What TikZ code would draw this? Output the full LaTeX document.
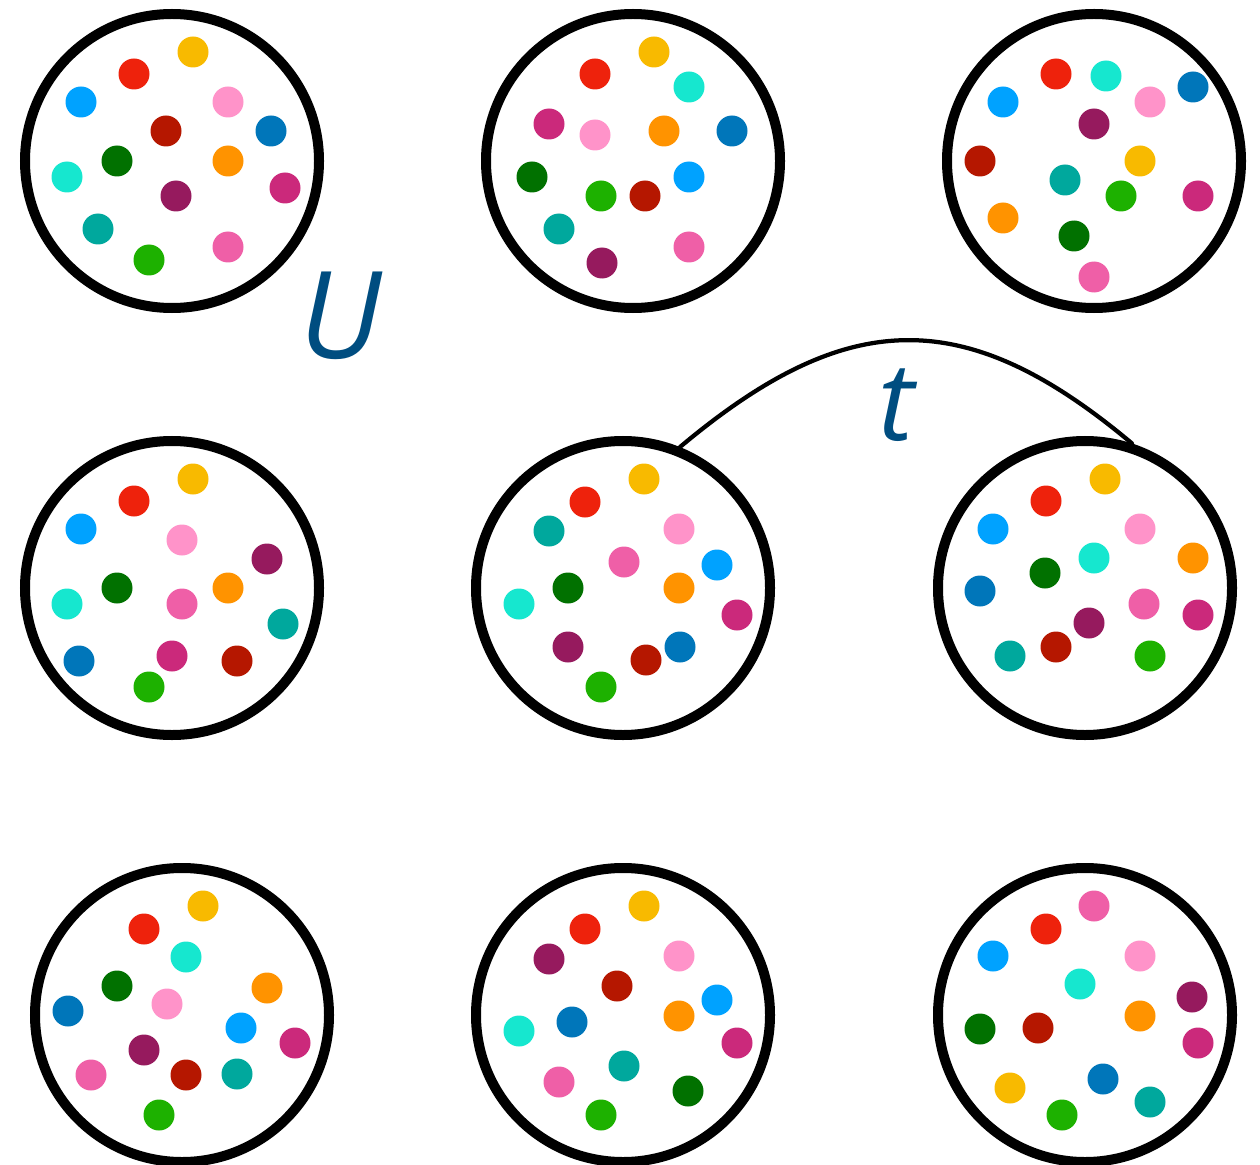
\documentclass[tikz,border=0pt]{standalone}
\usepackage{fontspec}
\newfontfamily\labelfont{Open Sans}
\definecolor{dyellow}{HTML}{F8BA00}
\definecolor{dred}{HTML}{EE220C}
\definecolor{dsky}{HTML}{00A2FF}
\definecolor{drose}{HTML}{FF93C9}
\definecolor{dbrick}{HTML}{B51700}
\definecolor{dblue}{HTML}{0076BA}
\definecolor{dforest}{HTML}{017100}
\definecolor{dorange}{HTML}{FF9300}
\definecolor{daqua}{HTML}{16E7CF}
\definecolor{dmagenta}{HTML}{CB297B}
\definecolor{dplum}{HTML}{961A5E}
\definecolor{dteal}{HTML}{00A89D}
\definecolor{dpink}{HTML}{EF5FA7}
\definecolor{dgreen}{HTML}{1DB100}
\definecolor{labelblue}{HTML}{004D80}
\tikzset{dish/.style={circle, draw=black, line width=2mm, minimum size=58.8mm, inner sep=0pt},
  link/.style={line width=0.85mm, line cap=round},
  lbl/.style={text=labelblue, inner sep=0pt, font=\labelfont\itshape\fontsize{69}{69}\selectfont}}

\begin{document}
\begin{tikzpicture}[x=0.2mm, y=-0.2mm]
  \useasboundingbox (0,0) rectangle (1260,1165);
  \foreach \n/\x/\y in {11/172/161, 12/633/161, 13/1094/161, 21/172/588, 22/623/588,
     23/1085/588, 31/182/1015, 32/623/1015, 33/1085/1015}
     \node[dish] (d\n) at (\x,\y) {};
  % top row
  \foreach \c/\x/\y in {dyellow/193/52, dred/134/74, dsky/81/102, drose/228/102, dbrick/166/131,
     dblue/271/131, dforest/117/161, dorange/228/161, daqua/67/177, dmagenta/285/188,
     dplum/176/196, dteal/98/229, dpink/228/247, dgreen/149/260,
     dyellow/654/52, dred/595/74, daqua/689/87, dmagenta/549/124, drose/595/135,
     dorange/664/131, dblue/732/131, dforest/532/177, dsky/689/177, dgreen/601/196,
     dbrick/645/196, dteal/559/229, dpink/689/247, dplum/602/263,
     dred/1056/74, daqua/1106/76, dblue/1193/87, dsky/1003/102, drose/1150/102,
     dplum/1094/124, dbrick/980/161, dyellow/1140/161, dteal/1065/180, dgreen/1121/196,
     dmagenta/1198/196, dorange/1003/218, dforest/1074/236, dpink/1094/277}
     \fill[\c] (\x,\y) circle (3.1mm);
  % middle row
  \foreach \c/\x/\y in {dyellow/193/479, dred/134/501, dsky/81/529, drose/182/540, dplum/267/559,
     dforest/117/588, dorange/228/588, daqua/67/604, dpink/182/604, dteal/283/624,
     dblue/79/661, dmagenta/172/656, dbrick/237/661, dgreen/149/687,
     dyellow/644/479, dred/585/502, dteal/549/531, drose/679/529, dpink/624/562,
     dsky/717/565, dforest/568/588, dorange/679/588, daqua/519/604, dmagenta/737/615,
     dplum/568/647, dblue/680/647, dbrick/646/660, dgreen/601/687,
     dyellow/1105/479, dred/1046/501, dsky/993/529, drose/1140/529, daqua/1094/558,
     dorange/1193/558, dforest/1045/573, dblue/980/591, dpink/1144/604, dmagenta/1198/615,
     dplum/1089/623, dbrick/1056/647, dteal/1010/656, dgreen/1150/656}
     \fill[\c] (\x,\y) circle (3.1mm);
  % bottom row
  \foreach \c/\x/\y in {dyellow/203/906, dred/144/929, daqua/186/957, dforest/117/986, dorange/267/988,
     drose/167/1004, dblue/68/1011, dsky/241/1028, dmagenta/295/1043, dplum/144/1050,
     dpink/91/1075, dbrick/186/1075, dteal/237/1074, dgreen/159/1115,
     dyellow/644/906, dred/585/929, dplum/549/959, drose/679/956, dbrick/617/986,
     dsky/717/1000, dorange/679/1016, dblue/572/1022, daqua/519/1031, dmagenta/737/1043,
     dteal/624/1066, dpink/559/1082, dforest/688/1091, dgreen/601/1115,
     dpink/1094/906, dred/1046/929, dsky/993/956, drose/1140/956, daqua/1080/984,
     dplum/1192/997, dorange/1140/1016, dforest/980/1029, dbrick/1038/1028, dmagenta/1198/1043,
     dblue/1103/1079, dyellow/1010/1088, dteal/1150/1102, dgreen/1062/1115}
     \fill[\c] (\x,\y) circle (3.1mm);
  \node[lbl] (u) at (341,316) {U};
  \node[lbl, font=\labelfont\itshape\fontsize{62}{62}\selectfont] (t) at (896,405) {t};
  \draw[link] (d22.68) .. controls +(40:43.6mm) and +(140:43.6mm) .. (d23.72);
\end{tikzpicture}
\end{document}
